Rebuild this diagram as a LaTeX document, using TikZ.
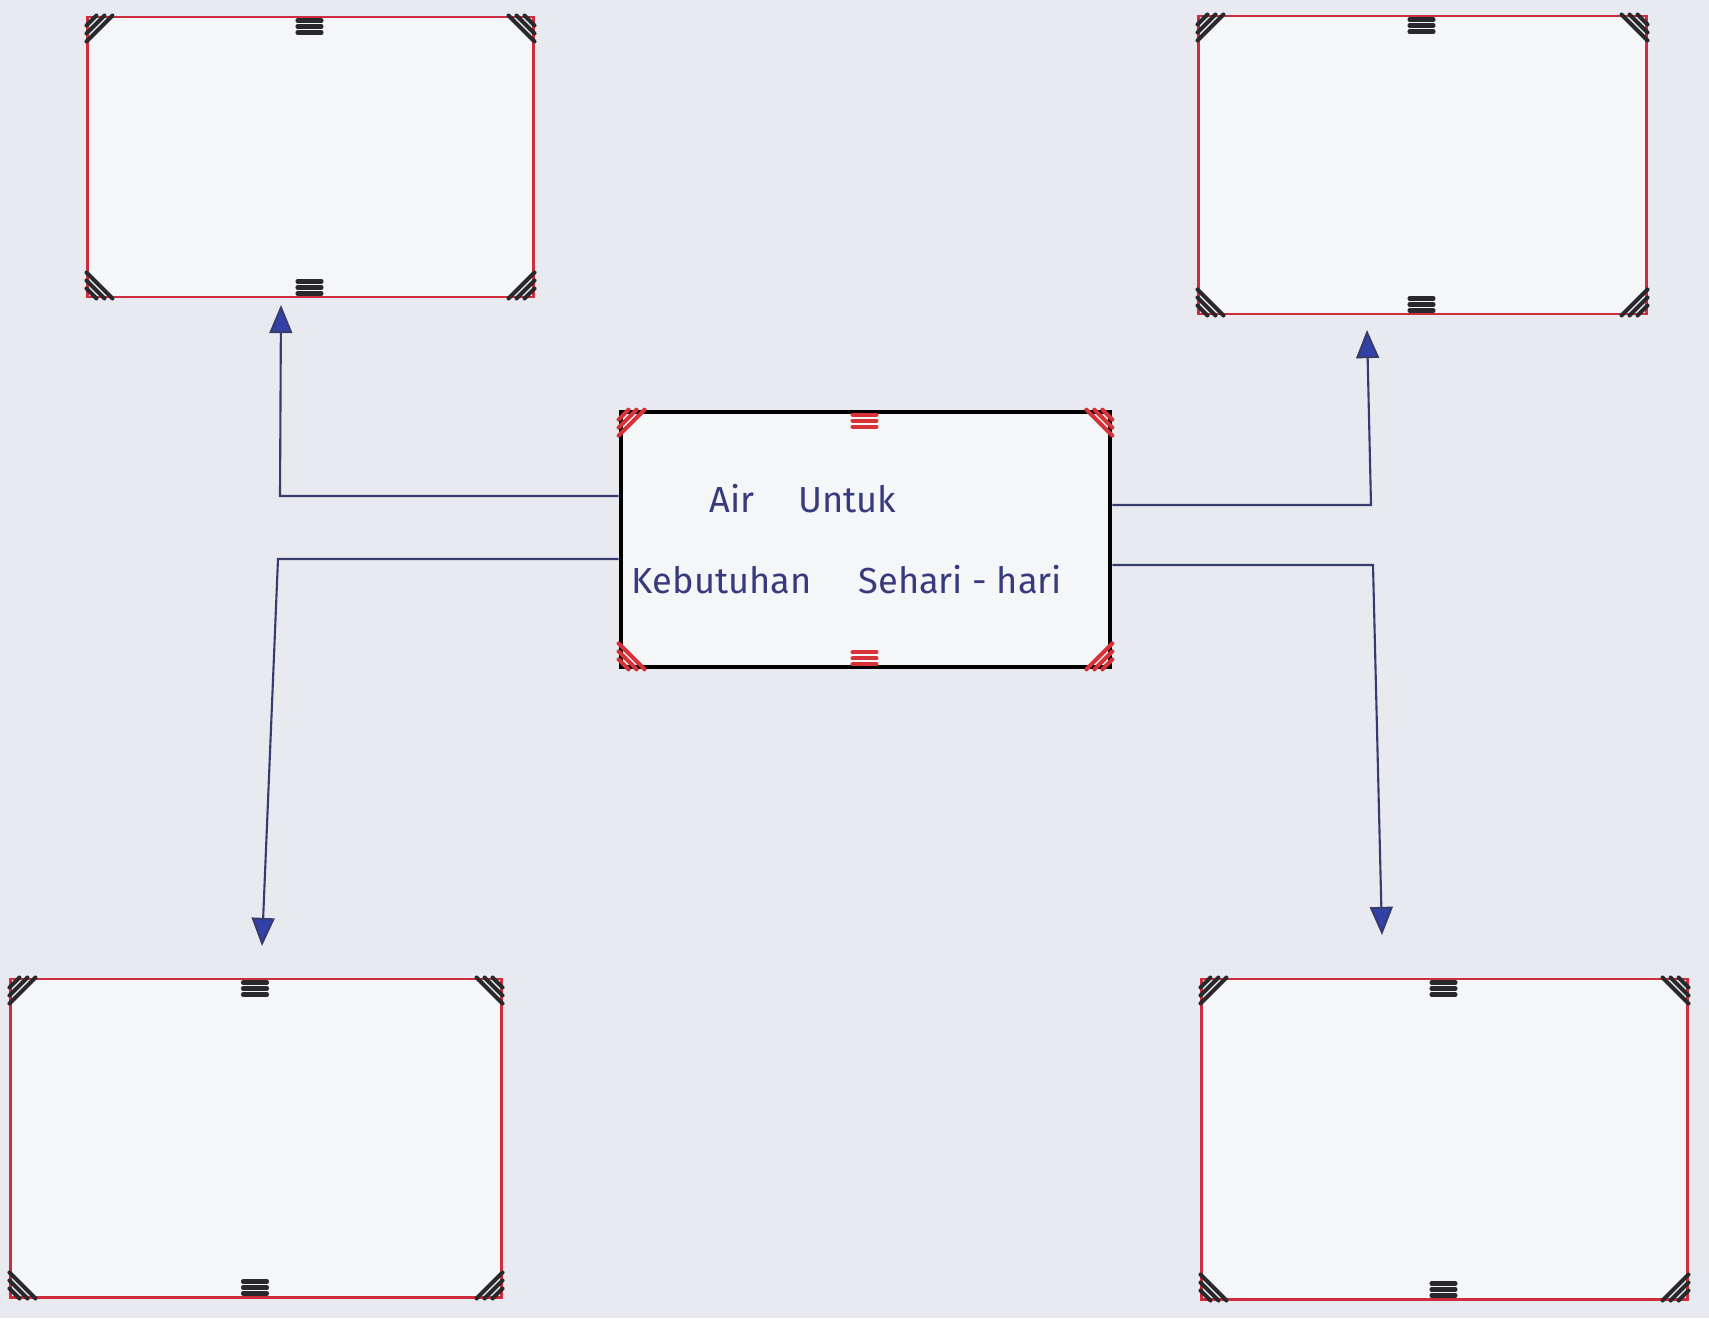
\documentclass[tikz,border=0pt]{standalone}
\usepackage{fontspec}
\setmainfont{Fira Sans}
\usetikzlibrary{calc,arrows.meta}
\definecolor{paper}{RGB}{232,234,239}
\definecolor{boxred}{RGB}{205,45,60}
\definecolor{hatchred}{RGB}{215,50,55}
\definecolor{ink}{RGB}{40,40,45}
\definecolor{conn}{RGB}{55,60,110}
\definecolor{tipblue}{RGB}{50,65,170}
\definecolor{txt}{RGB}{55,58,125}
\tikzset{
  outerbox/.style={draw=boxred,line width=0.8pt,fill=white!55!paper,inner sep=0pt},
  centerbox/.style={draw=black,line width=1.3pt,fill=white!55!paper,inner sep=0pt},
  hatchline/.style={line width=1.15pt,line cap=round},
  connline/.style={draw=conn,line width=0.6pt,-{Triangle[length=8pt,width=6.5pt,fill=tipblue]}},
  label/.style={text=txt,font=\fontsize{10.3}{12}\selectfont}
}
\newcommand\hatchbox[2]{%
  \foreach \k in {10,18,26}{%
    \draw[#2,hatchline] ($(#1.north west)+(\k,0)$) -- ($(#1.north west)+(0,\k)$);
    \draw[#2,hatchline] ($(#1.north east)+(-\k,0)$) -- ($(#1.north east)+(0,\k)$);
    \draw[#2,hatchline] ($(#1.south west)+(\k,0)$) -- ($(#1.south west)+(0,-\k)$);
    \draw[#2,hatchline] ($(#1.south east)+(-\k,0)$) -- ($(#1.south east)+(0,-\k)$);
  }%
  \foreach \d in {5,11,17}{%
    \draw[#2,hatchline] ($(#1.north)+(-13,\d)$) -- ++(24,0);
    \draw[#2,hatchline] ($(#1.south)+(-13,-\d)$) -- ++(24,0);
  }%
}
\begin{document}
\begin{tikzpicture}[x=0.01cm,y=-0.01cm]
\fill[paper] (0,0) rectangle (1709,1318);
\useasboundingbox (0,0) rectangle (1709,1318);
% boxes
\node[outerbox,minimum width=4.45cm,minimum height=2.80cm] (tl) at (310.5,157) {};
\node[outerbox,minimum width=4.47cm,minimum height=2.98cm] (tr) at (1422.5,165) {};
\node[outerbox,minimum width=4.90cm,minimum height=3.18cm] (bl) at (256,1138) {};
\node[outerbox,minimum width=4.85cm,minimum height=3.20cm] (br) at (1444.5,1139) {};
\node[centerbox,minimum width=4.89cm,minimum height=2.55cm] (cb) at (865.5,539.5) {};
\hatchbox{tl}{ink}
\hatchbox{tr}{ink}
\hatchbox{bl}{ink}
\hatchbox{br}{ink}
\hatchbox{cb}{hatchred}
% texts
\node[label] (t1) at (803,499) {Air\hspace{1.2em}Untuk};
\node[label] (t2) at (847,580) {Kebutuhan\hspace{1.3em}Sehari - hari};
% connectors
\coordinate (eTL) at (280,496);
\coordinate (pTL) at (281,305);
\coordinate (eBL) at (278,559);
\coordinate (pBL) at (262,946);
\coordinate (eTR) at (1371,505);
\coordinate (pTR) at (1367,330);
\coordinate (eBR) at (1373,565);
\coordinate (pBR) at (1382,935);
\draw[connline] (eTL -| cb.west) -- (eTL) -- (pTL);
\draw[connline] (eBL -| cb.west) -- (eBL) -- (pBL);
\draw[connline] (eTR -| cb.east) -- (eTR) -- (pTR);
\draw[connline] (eBR -| cb.east) -- (eBR) -- (pBR);
\end{tikzpicture}
\end{document}
